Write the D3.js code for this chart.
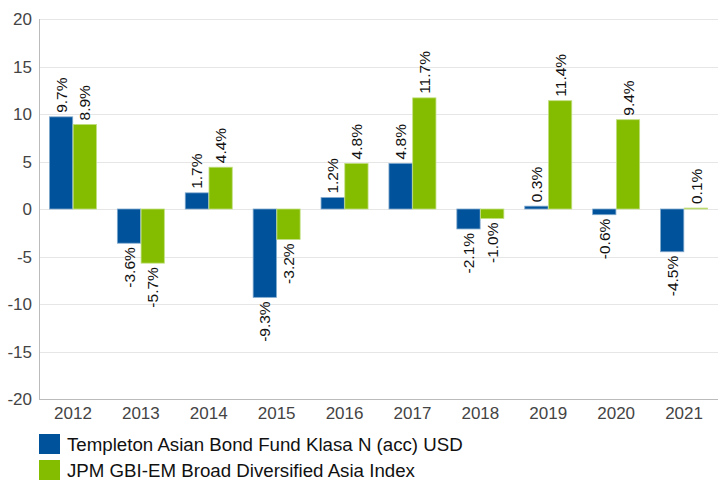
<!DOCTYPE html>
<html>
<head>
<meta charset="utf-8">
<script src="https://cdn.jsdelivr.net/npm/d3@7"></script>
<style>
  body { margin: 0; background: #fff; }
  svg { display: block; font-family: Arial, "Liberation Sans", sans-serif; }
</style>
</head>
<body>
<div class="container"></div>
<script>
const width = 718;
const height = 480;
const margin = { top: 19, right: 0, bottom: 81, left: 39 };

const years = ['2012', '2013', '2014', '2015', '2016', '2017', '2018', '2019', '2020', '2021'];
const fundValues = [9.7, -3.6, 1.7, -9.3, 1.2, 4.8, -2.1, 0.3, -0.6, -4.5];
const indexValues = [8.9, -5.7, 4.4, -3.2, 4.8, 11.7, -1.0, 11.4, 9.4, 0.1];
const seriesNames = ['Templeton Asian Bond Fund Klasa N (acc) USD', 'JPM GBI-EM Broad Diversified Asia Index'];
const seriesColors = ['#00529b', '#84bd00'];
const strokeColors = ['#7fa8cd', '#c1de80'];
const yTicks = [-20, -15, -10, -5, 0, 5, 10, 15, 20];

const rows = years.map((y, i) => ({ year: y, values: [fundValues[i], indexValues[i]] }));

const svg = d3.select('.container')
    .append('svg')
    .attr('width', width)
    .attr('height', height);

const x = d3.scaleBand().domain(years).range([margin.left, width - margin.right]);
const y = d3.scaleLinear().domain([-20, 20]).range([height - margin.bottom, margin.top]);
const barW = 23;
const inner = d3.scaleBand().domain([0, 1]).range([x.bandwidth() / 2 - barW - 0.5, x.bandwidth() / 2 + barW + 0.5]).paddingInner(0.02);

// gridlines
svg.append('g')
    .selectAll('line')
    .data(yTicks)
    .enter()
    .append('line')
    .attr('x1', margin.left)
    .attr('x2', width - margin.right)
    .attr('y1', d => Math.round(y(d)) + 0.5)
    .attr('y2', d => Math.round(y(d)) + 0.5)
    .attr('stroke', '#e6e6e6')
    .attr('stroke-width', 1.2);

// y tick labels
svg.append('g')
    .selectAll('text')
    .data(yTicks)
    .enter()
    .append('text')
    .attr('x', margin.left - 7)
    .attr('y', d => y(d))
    .attr('dy', '0.36em')
    .attr('text-anchor', 'end')
    .attr('fill', '#444')
    .attr('font-size', 17)
    .text(d => d);

// bars
const group = svg.append('g')
    .selectAll('g')
    .data(rows)
    .enter()
    .append('g')
    .attr('transform', d => `translate(${x(d.year)},0)`);

group.selectAll('rect')
    .data(d => d.values.map((v, k) => ({ v, k })))
    .enter()
    .append('rect')
    .attr('x', d => inner(d.k))
    .attr('width', inner.bandwidth())
    .attr('y', d => y(Math.max(0, d.v)))
    .attr('height', d => Math.abs(y(d.v) - y(0)))
    .attr('fill', d => seriesColors[d.k])
    .attr('stroke', d => strokeColors[d.k])
    .attr('stroke-width', 0.8);

group.selectAll('text')
    .data(d => d.values.map((v, k) => ({ v, k })))
    .enter()
    .append('text')
    .attr('transform', d => {
        const cx = inner(d.k) + inner.bandwidth() / 2;
        const cy = d.v >= 0 ? y(d.v) - 4 : y(d.v) + 4;
        return `translate(${cx},${cy}) rotate(-90)`;
    })
    .attr('text-anchor', d => d.v >= 0 ? 'start' : 'end')
    .attr('dy', '0.36em')
    .attr('font-size', 15.5)
    .attr('fill', '#111')
    .text(d => `${d.v.toFixed(1)}%`);

// axes lines
svg.append('line')
    .attr('x1', margin.left + 0.5)
    .attr('x2', margin.left + 0.5)
    .attr('y1', margin.top)
    .attr('y2', y(-20))
    .attr('stroke', '#bbb');

svg.append('line')
    .attr('x1', margin.left)
    .attr('x2', width - margin.right)
    .attr('y1', Math.round(y(-20)) + 0.5)
    .attr('y2', Math.round(y(-20)) + 0.5)
    .attr('stroke', '#bbb');

// x labels
svg.append('g')
    .selectAll('text')
    .data(years)
    .enter()
    .append('text')
    .attr('x', d => x(d) + x.bandwidth() / 2)
    .attr('y', y(-20) + 20)
    .attr('text-anchor', 'middle')
    .attr('fill', '#444')
    .attr('font-size', 17)
    .text(d => d);

// legend
const legend = svg.append('g')
    .selectAll('g')
    .data(seriesNames)
    .enter()
    .append('g')
    .attr('transform', (d, i) => `translate(${margin.left},${434 + i * 26})`);

legend.append('rect')
    .attr('width', 21)
    .attr('height', 20)
    .attr('fill', (d, i) => seriesColors[i]);

legend.append('text')
    .attr('x', 28)
    .attr('y', 10)
    .attr('dy', '0.36em')
    .attr('font-size', 18.7)
    .attr('fill', '#111')
    .text(d => d);
</script>
</body>
</html>
